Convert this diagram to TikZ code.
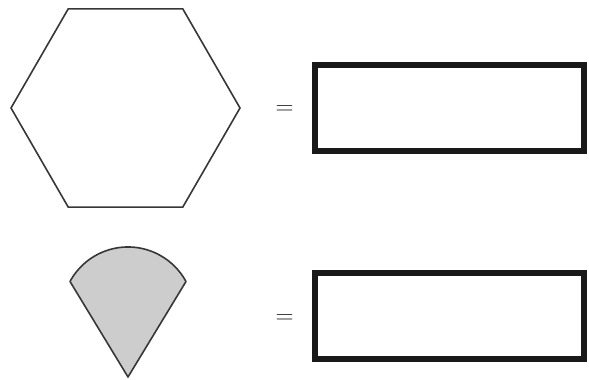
\documentclass[tikz,border=0pt]{standalone}
\usetikzlibrary{shapes.geometric, positioning}
\definecolor{edgegray}{RGB}{55, 55, 55}
\definecolor{fangray}{RGB}{205, 205, 205}

\begin{document}
\begin{tikzpicture}[x=1pt, y=1pt,
        hexa/.style={regular polygon, regular polygon sides=6, draw=edgegray, line width=1.6pt, minimum size=229pt, inner sep=0pt},
        slot/.style={rectangle, draw=black!90, line width=6pt, minimum width=269pt, minimum height=86pt, inner sep=0pt},
        eqs/.style={font=\fontsize{25}{25}\selectfont, text=black!85, inner sep=0pt},
        fan/.style={draw=edgegray, fill=fangray, line width=1.6pt, line join=round}
      ]
        \useasboundingbox (0,0) rectangle (589,380);
        \node[hexa] (hex) at (125.5, 272) {};
        \node[slot] (box1) at (449.5, 271.5) {};
        \node[eqs] (eq1) at (284.5, 270) {=};
        \coordinate (tip) at (128, 3);
        \coordinate (fl) at (70, 98.5);
        \draw[fan] (tip) -- (fl) arc[start angle=151.5, end angle=28.5, radius=66pt] -- cycle;
        \node[slot] (box2) at (449.5, 64) {};
        \node[eqs] (eq2) at (284.5, 61) {=};
      \end{tikzpicture}
\end{document}
